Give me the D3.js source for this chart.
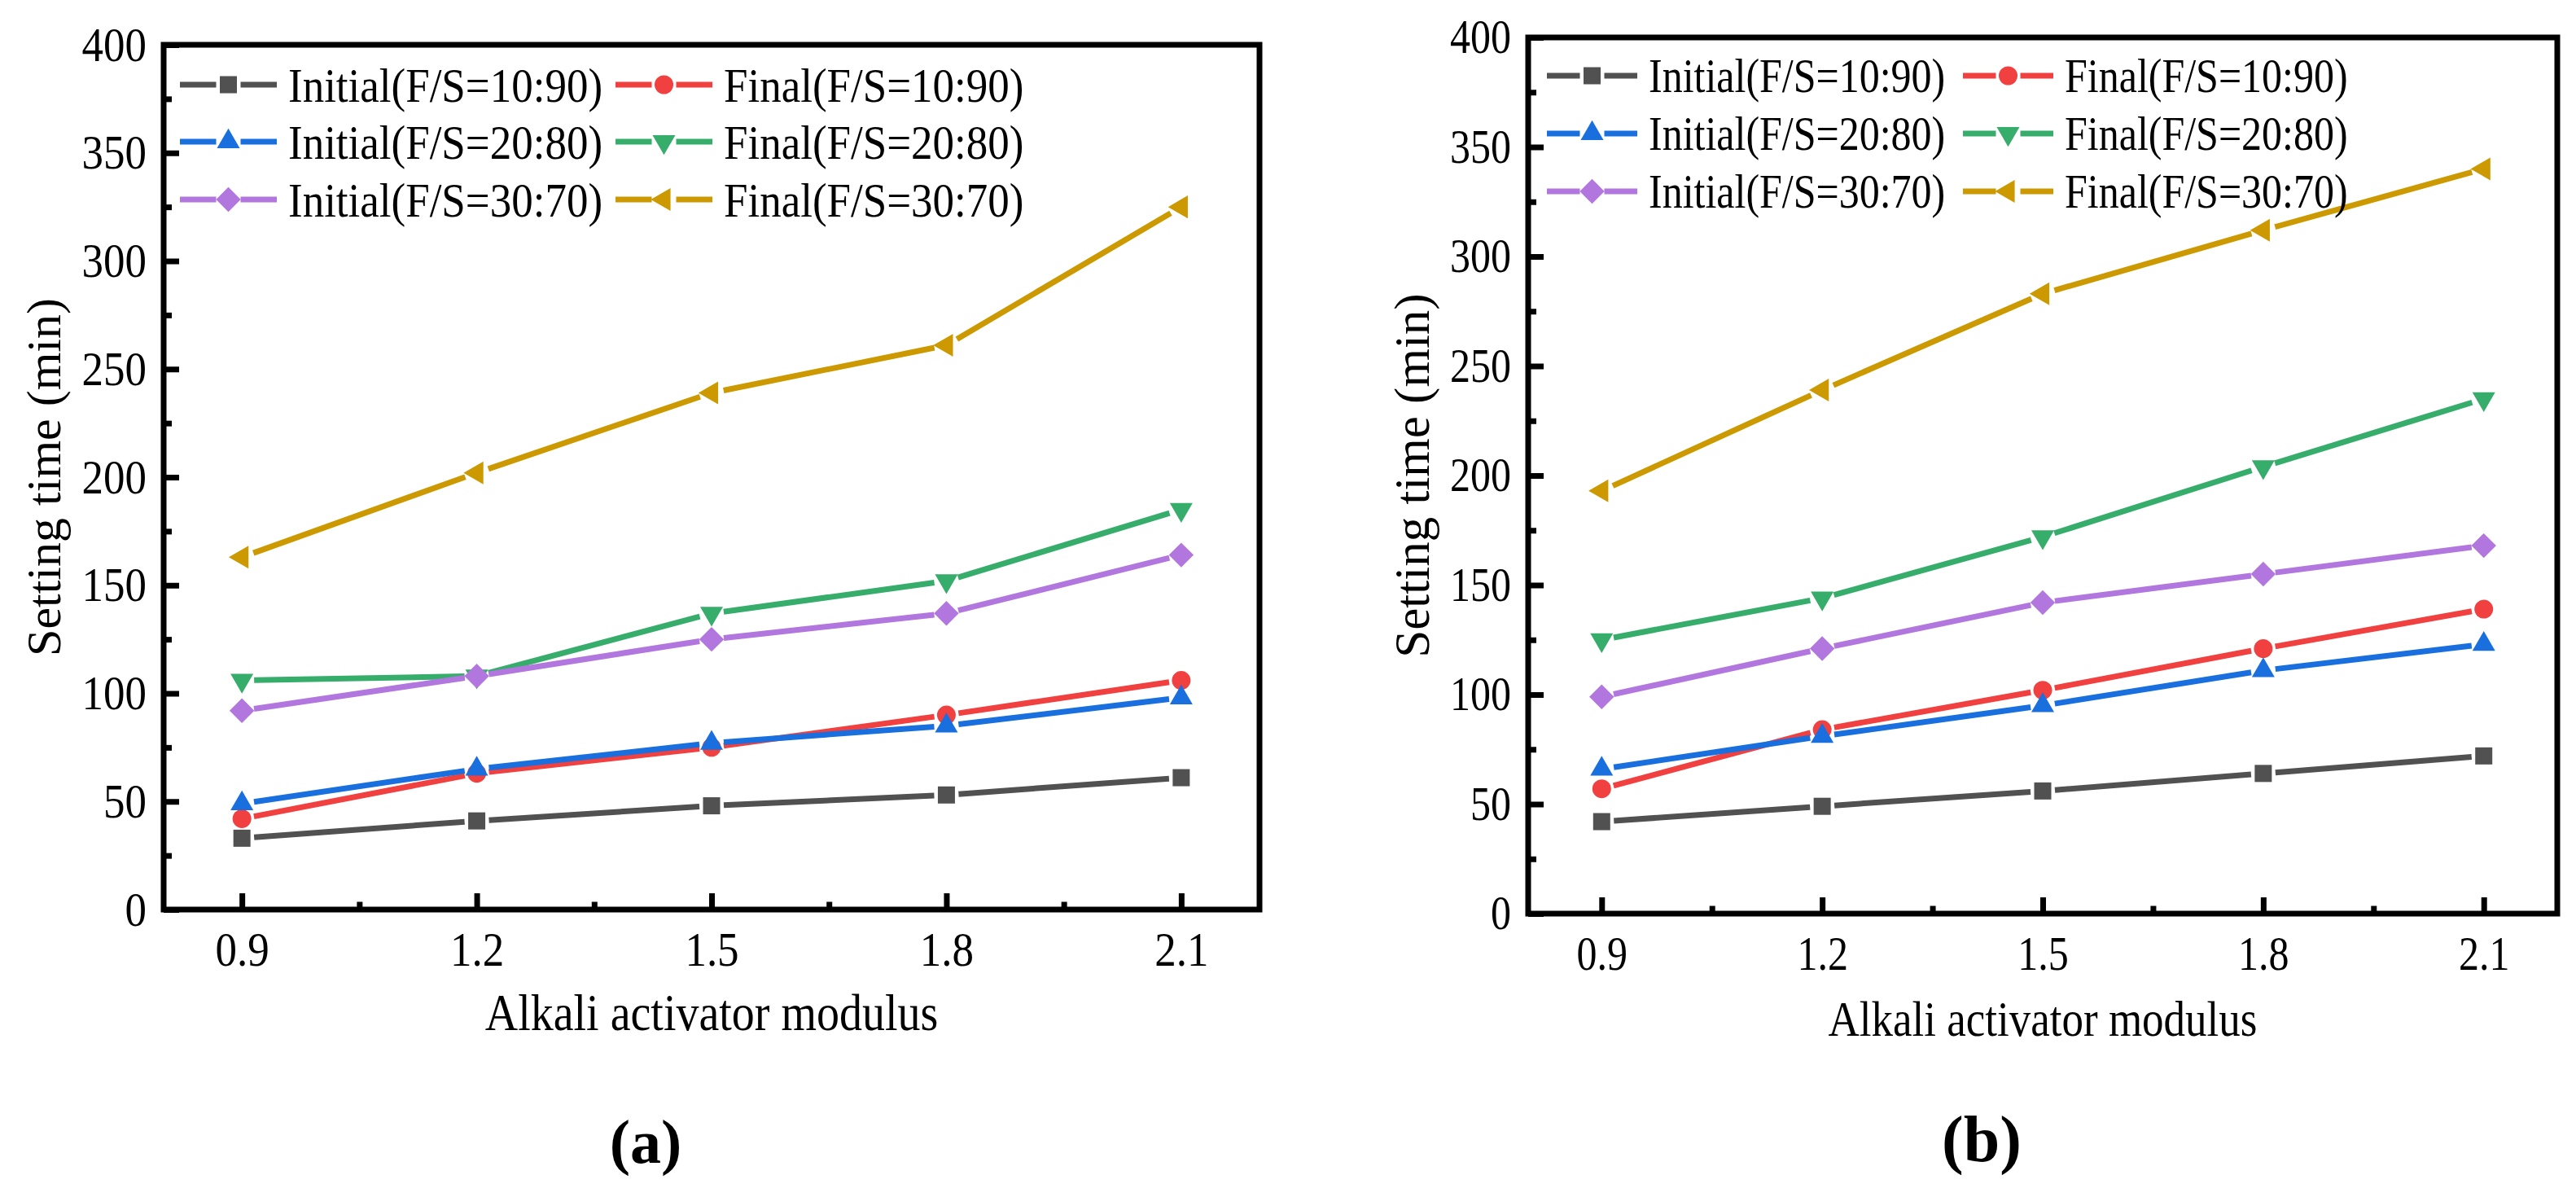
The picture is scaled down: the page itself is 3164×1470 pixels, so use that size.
<!DOCTYPE html>
<html>
<head>
<meta charset="utf-8" />
<title>Setting time vs alkali activator modulus</title>
<script src="https://cdn.jsdelivr.net/npm/d3@7"></script>
<style>
  html, body { margin: 0; padding: 0; background: #fff; }
  svg text { font-family: "Liberation Serif", "Times New Roman", Times, serif; fill: #000; }
</style>
</head>
<body>
<svg id="mainsvg" width="3164" height="1470"></svg>
<script>
// ---- data ----
const xTicks = [0.9, 1.2, 1.5, 1.8, 2.1];
const xMinor = [1.05, 1.35, 1.65, 1.95];
const yTicks = [0, 50, 100, 150, 200, 250, 300, 350, 400];
const yMinor = [25, 75, 125, 175, 225, 275, 325, 375];
const seriesNames = [
  "Initial(F/S=10:90)", "Final(F/S=10:90)",
  "Initial(F/S=20:80)", "Final(F/S=20:80)",
  "Initial(F/S=30:70)", "Final(F/S=30:70)"
];
const seriesColors = ["#515151", "#F14040", "#1A6FDF", "#37AD6B", "#B177DE", "#CC9900"];

// panel (a)
const aInit1090 = [33, 41, 48, 53, 61];
const aFinal1090 = [42, 63, 75, 90, 106];
const aInit2080 = [49, 65, 77, 85, 98];
const aFinal2080 = [106, 108, 137, 152, 185];
const aInit3070 = [92, 108, 125, 137, 164];
const aFinal3070 = [163, 202, 239, 261, 325];

// panel (b)
const bInit1090 = [42, 49, 56, 64, 72];
const bFinal1090 = [57, 84, 102, 121, 139];
const bInit2080 = [66, 81, 95, 111, 123];
const bFinal2080 = [125, 144, 172, 204, 235];
const bInit3070 = [99, 121, 142, 155, 168];
const bFinal3070 = [193, 239, 283, 312, 340];

const xTitle = "Alkali activator modulus";
const yTitle = "Setting time (min)";

// ---- styling / layout ----
const markers = [
  { type: d3.symbolSquare, size: 441, rot: 0 },
  { type: d3.symbolCircle, size: 415, rot: 0 },
  { type: d3.symbolTriangle, size: 340, rot: 0 },
  { type: d3.symbolTriangle, size: 340, rot: 180 },
  { type: d3.symbolSquare, size: 462, rot: 45 },
  { type: d3.symbolTriangle, size: 340, rot: -90 }
];

const layouts = [
  { cap: "(a)", left: 201, right: 1547, top: 55, bottom: 1117, fs: 53, sy: 1.12,
    yLabelX: 74, yLabelFs: 60, xLabelBase: 1265, xLabelFs: 56,
    capX: 793, capY: 1428, capFs: 76,
    legX: [221, 756], legRows: [104, 174, 245], legLen: 119 },
  { cap: "(b)", left: 1877, right: 3141, top: 46, bottom: 1122, fs: 50, sy: 1.17,
    yLabelX: 1755, yLabelFs: 61, xLabelBase: 1272, xLabelFs: 53,
    capX: 2434, capY: 1426, capFs: 80,
    legX: [1900, 2411], legRows: [93, 164, 235], legLen: 111 }
];

const svg = d3.select("#mainsvg");
const lineW = 7;
const gap = 15;

function symbolPath(m) {
  return d3.symbol().type(m.type).size(m.size)();
}

function drawPanel(L, series) {
  const g = svg.append("g");
  const x = d3.scaleLinear().domain([0.8, 2.2]).range([L.left, L.right]);
  const y = d3.scaleLinear().domain([0, 400]).range([L.bottom, L.top]);

  // minor ticks
  const xm = g.append("g").attr("transform", `translate(0,${L.bottom})`)
    .call(d3.axisBottom(x).tickValues(xMinor).tickSize(-9.5).tickSizeOuter(0).tickFormat(""));
  const ym = g.append("g").attr("transform", `translate(${L.left},0)`)
    .call(d3.axisLeft(y).tickValues(yMinor).tickSize(-10).tickSizeOuter(0).tickFormat(""));
  [xm, ym].forEach(a => {
    a.select(".domain").remove();
    a.selectAll("line").attr("stroke", "#000").attr("stroke-width", lineW);
  });

  // major ticks + labels
  const xa = g.append("g").attr("transform", `translate(0,${L.bottom})`)
    .call(d3.axisBottom(x).tickValues(xTicks).tickSize(-20).tickSizeOuter(0).tickFormat(d3.format(".1f")));
  const ya = g.append("g").attr("transform", `translate(${L.left},0)`)
    .call(d3.axisLeft(y).tickValues(yTicks).tickSize(-19).tickSizeOuter(0).tickPadding(21));
  [xa, ya].forEach(a => {
    a.select(".domain").remove();
    a.selectAll("line").attr("stroke", "#000").attr("stroke-width", lineW);
    a.selectAll("text").attr("font-size", L.fs).attr("fill", "#000")
      .style("font-family", '"Liberation Serif", "Times New Roman", serif');
  });
  xa.selectAll("text").attr("y", 69 / L.sy).attr("dy", 0).attr("transform", `scale(1,${L.sy})`);
  ya.selectAll("text").attr("transform", `scale(1,${L.sy})`);

  // frame
  g.append("rect")
    .attr("x", L.left).attr("y", L.top)
    .attr("width", L.right - L.left).attr("height", L.bottom - L.top)
    .attr("fill", "none").attr("stroke", "#000").attr("stroke-width", lineW);

  // lines with gaps around symbols
  series.forEach((vals, i) => {
    const pts = vals.map((v, j) => [x(xTicks[j]), y(v)]);
    const segs = d3.pairs(pts).map(([p, q]) => {
      const dx = q[0] - p[0], dy = q[1] - p[1];
      const len = Math.hypot(dx, dy);
      const ux = dx / len, uy = dy / len;
      return [p[0] + ux * gap, p[1] + uy * gap, q[0] - ux * gap, q[1] - uy * gap];
    });
    g.append("g").selectAll("line").data(segs).join("line")
      .attr("x1", d => d[0]).attr("y1", d => d[1])
      .attr("x2", d => d[2]).attr("y2", d => d[3])
      .attr("stroke", seriesColors[i]).attr("stroke-width", lineW);
  });
  series.forEach((vals, i) => {
    g.append("g").selectAll("path").data(vals).join("path")
      .attr("d", symbolPath(markers[i]))
      .attr("transform", (v, j) => `translate(${x(xTicks[j])},${y(v)}) rotate(${markers[i].rot})`)
      .attr("fill", seriesColors[i]);
  });

  // legend
  seriesNames.forEach((name, i) => {
    const lx = L.legX[i % 2];
    const ly = L.legRows[Math.floor(i / 2)];
    const mx = lx + L.legLen / 2;
    const lg = g.append("g");
    lg.append("line").attr("x1", lx).attr("x2", mx - gap).attr("y1", ly).attr("y2", ly)
      .attr("stroke", seriesColors[i]).attr("stroke-width", lineW);
    lg.append("line").attr("x1", mx + gap).attr("x2", lx + L.legLen).attr("y1", ly).attr("y2", ly)
      .attr("stroke", seriesColors[i]).attr("stroke-width", lineW);
    lg.append("path").attr("d", symbolPath(markers[i]))
      .attr("transform", `translate(${mx},${ly}) rotate(${markers[i].rot})`)
      .attr("fill", seriesColors[i]);
    lg.append("g").attr("transform", `translate(${lx + L.legLen + 14},${ly}) scale(1,${L.sy})`)
      .append("text").attr("dy", "0.35em").attr("font-size", L.fs).text(name);
  });

  // axis titles
  g.append("g").attr("transform", `translate(${(L.left + L.right) / 2},${L.xLabelBase}) scale(1,${L.sy})`)
    .append("text").attr("text-anchor", "middle").attr("font-size", L.xLabelFs).text(xTitle);
  g.append("text")
    .attr("transform", `translate(${L.yLabelX},${(L.top + L.bottom) / 2}) rotate(-90)`)
    .attr("text-anchor", "middle").attr("font-size", L.yLabelFs).text(yTitle);

  // caption
  g.append("text").attr("x", L.capX).attr("y", L.capY)
    .attr("text-anchor", "middle").attr("font-size", L.capFs).attr("font-weight", "bold")
    .text(L.cap);
}

drawPanel(layouts[0], [aInit1090, aFinal1090, aInit2080, aFinal2080, aInit3070, aFinal3070]);
drawPanel(layouts[1], [bInit1090, bFinal1090, bInit2080, bFinal2080, bInit3070, bFinal3070]);
</script>
</body>
</html>
